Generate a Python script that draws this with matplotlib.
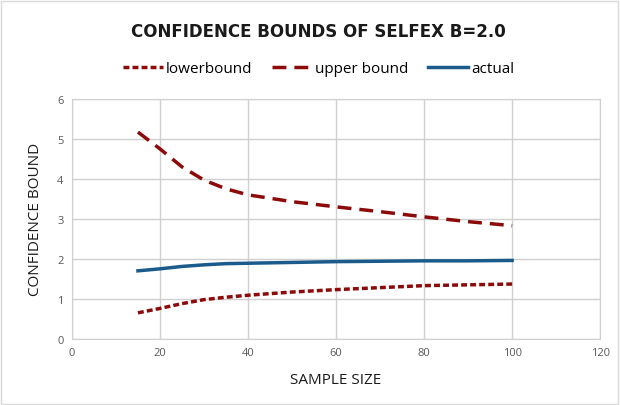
import numpy as np
import matplotlib.pyplot as plt
from matplotlib.patches import Rectangle

# values
sample_size = [15, 20, 25, 30, 35, 40, 50, 60, 70, 80, 90, 100]
lower = [0.65, 0.76, 0.88, 0.98, 1.04, 1.09, 1.17, 1.23, 1.28, 1.33, 1.35, 1.37]
upper = [5.17, 4.75, 4.30, 3.97, 3.75, 3.60, 3.43, 3.30, 3.18, 3.05, 2.93, 2.83]
actual = [1.70, 1.75, 1.81, 1.85, 1.88, 1.89, 1.91, 1.93, 1.94, 1.95, 1.95, 1.96]

red = '#8c0a0a'
blue = '#1b5b8c'

plt.rcParams['font.family'] = ['Open Sans', 'DejaVu Sans']

fig = plt.figure(figsize=(6.2, 4.06), dpi=100)
ax = fig.add_axes([0.116, 0.163, 0.852, 0.591])

ax.plot(sample_size, lower, color=red, lw=2.5, linestyle=(0, (1.7, 0.9)), label='lowerbound')
ax.plot(sample_size, upper, color=red, lw=2.5, linestyle=(0, (4, 2.3)), label='upper bound')
ax.plot(sample_size, actual, color=blue, lw=2.5, label='actual')

ax.set_xlim(0, 120)
ax.set_ylim(0, 6)
ax.set_xticks(np.arange(0, 121, 20))
ax.set_yticks(np.arange(0, 7, 1))
ax.grid(True, color='#d0d0d0', lw=1)
ax.set_axisbelow(True)
for s in ax.spines.values():
    s.set_color('#d0d0d0')
ax.tick_params(length=0, labelsize=8, labelcolor='#595959', pad=6)

ax.set_xlabel('SAMPLE SIZE', fontsize=11, color='#1a1a1a', labelpad=10)
ax.set_ylabel('CONFIDENCE BOUND', fontsize=11, color='#1a1a1a', labelpad=10)

fig.text(0.514, 0.92, 'CONFIDENCE BOUNDS OF SELFEX B=2.0', ha='center', va='center',
         fontsize=12, fontweight='bold', color='#1a1a1a', family='DejaVu Sans')
fig.legend(loc='center', bbox_to_anchor=(0.514, 0.828), ncol=3, frameon=False,
           fontsize=11, handlelength=2.6, handletextpad=0.2, columnspacing=1.3)

fig.patches.append(Rectangle((0.002, 0.003), 0.994, 0.993, transform=fig.transFigure,
                             fill=False, edgecolor='#d9d9d9', lw=1))

fig.savefig('out.png', dpi=100)
